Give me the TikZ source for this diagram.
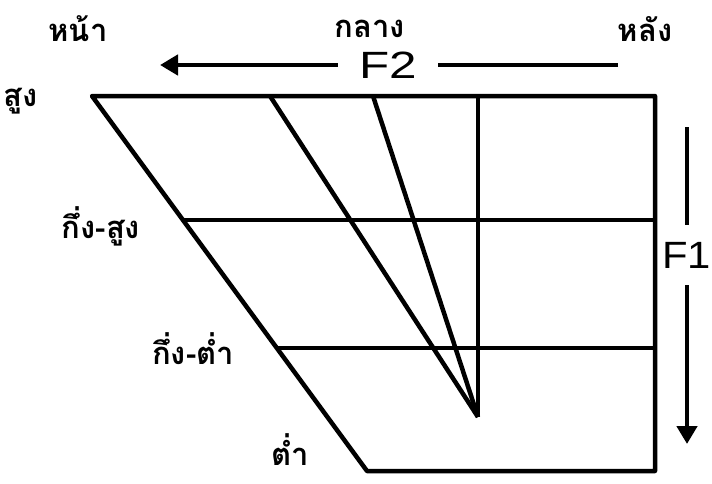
\documentclass[tikz,border=0pt]{standalone}
\usepackage{fontspec}
\setsansfont{Liberation Sans}
\newfontfamily\thaifont[Script=Thai]{Loma}
\usetikzlibrary{arrows.meta}

\begin{document}
\begin{tikzpicture}[
    x=1pt, y=-1pt,
    edge/.style={line width=4.5pt, line join=round},
    axis/.style={line width=4.5pt},
    thlabel/.style={font=\thaifont\bfseries\fontsize{31}{31}\selectfont, inner sep=0pt},
    flabel/.style={font=\sffamily\fontsize{38}{38}\selectfont, inner sep=0pt}
  ]

  % ---- Frame ----
  \useasboundingbox (0,0) rectangle (712,483);

  % ---- Corner points of the chart ----
  \coordinate (TL) at (92,96);
  \coordinate (TR) at (655,96);
  \coordinate (BR) at (655,471);
  \coordinate (BL) at (367,471);
  \coordinate (T1) at (270,96);
  \coordinate (T2) at (373,96);
  \coordinate (T3) at (478,96);
  \coordinate (Apex) at (478,417);
  \coordinate (M1L) at (183,220);
  \coordinate (M1R) at (655,220);
  \coordinate (M2L) at (277,348);
  \coordinate (M2R) at (655,348);

  % ---- Outline ----
  \draw[edge] (TL) -- (TR) -- (BR) -- (BL) -- cycle;

  % ---- Height levels ----
  \draw[edge] (M1L) -- (M1R);
  \draw[line width=3.5pt] (M2L) -- (M2R);

  % ---- Lines to the apex ----
  \draw[edge] (T1) -- (Apex);
  \draw[edge] (T2) -- (Apex);
  \draw[edge] (T3) -- (Apex);

  % ---- Labels ----
  \node[thlabel] (Front) at (78,29) {หน้า};
  \node[thlabel] (Central) at (370,29) {กลาง};
  \node[thlabel] (Back) at (645,29) {หลัง};
  \node[thlabel] (High) at (21,101) {สูง};
  \node[thlabel] (MidHigh) at (101,226) {กึ่ง-สูง};
  \node[thlabel] (MidLow) at (193,349) {กึ่ง-ต่ำ};
  \node[thlabel] (Low) at (290,450) {ต่ำ};

  % ---- F2 axis ----
  \node[flabel, inner xsep=21pt] (F2) at (388,65) {\scalebox{1.3}[1]{F2}};
  \coordinate (F2tip) at (160,65);
  \coordinate (F2end) at (618,65);
  \draw[axis, -{Triangle[length=18pt,width=20pt]}] (F2) -- (F2tip);
  \draw[axis] (F2end) -- (F2);

  % ---- F1 axis ----
  \node[flabel, inner ysep=17pt, anchor=east] (F1) at (711,255) {\scalebox{1.1}[1]{F1}};
  \coordinate (F1top) at (687,127);
  \coordinate (F1tip) at (687,444);
  \draw[axis] (F1top) -- (F1top |- F1.north);
  \draw[axis, -{Triangle[length=18pt,width=20pt]}] (F1tip |- F1.south) -- (F1tip);

\end{tikzpicture}
\end{document}
